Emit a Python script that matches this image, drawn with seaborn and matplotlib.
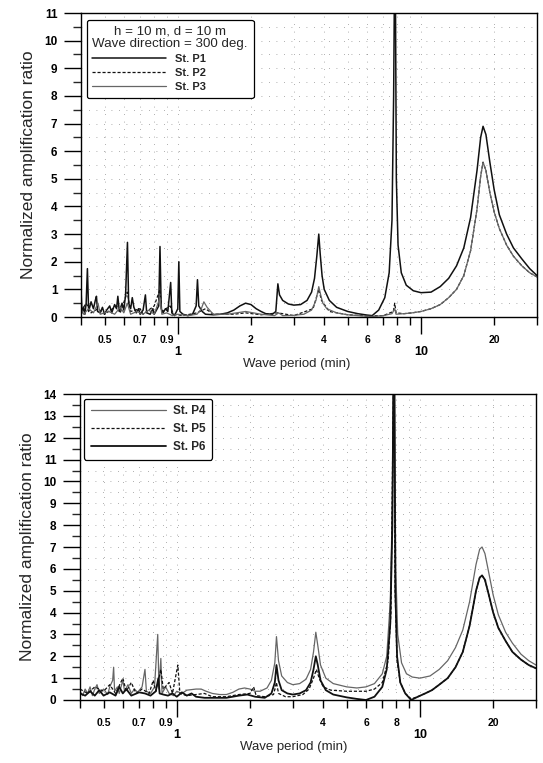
import numpy as np
import pandas as pd
import matplotlib
matplotlib.use("Agg")
import matplotlib.pyplot as plt
from matplotlib.ticker import FixedLocator, FixedFormatter, MultipleLocator
import seaborn as sns

# ---------------- data ----------------
# Top panel
p1_T = [0.400, 0.404, 0.41, 0.415, 0.42, 0.425, 0.43, 0.44, 0.45, 0.458, 0.463, 0.468, 0.48, 0.49, 0.50,
        0.51, 0.525, 0.535, 0.55, 0.56, 0.567, 0.575, 0.59, 0.60, 0.61, 0.621, 0.628, 0.64, 0.65, 0.66,
        0.675, 0.69, 0.70, 0.72, 0.736, 0.745, 0.77, 0.79, 0.80, 0.835, 0.845, 0.855, 0.87, 0.89, 0.91,
        0.935, 0.945, 0.97, 1.0, 1.01, 1.02, 1.05, 1.1, 1.15, 1.19, 1.205, 1.22, 1.26, 1.3, 1.4, 1.5,
        1.6, 1.7, 1.8, 1.9, 2.0, 2.1, 2.2, 2.3, 2.45, 2.53, 2.58, 2.62, 2.7, 2.85, 3.0, 3.2, 3.4, 3.55,
        3.65, 3.73, 3.8, 3.85, 3.92, 4.0, 4.2, 4.5, 5.0, 5.5, 6.0, 6.3, 6.7, 7.1, 7.4, 7.6, 7.72, 7.78,
        7.85, 7.92, 8.05, 8.3, 8.7, 9.3, 10, 11, 12, 13, 14, 15, 16, 17, 17.6, 18.0, 18.5, 19.2, 20, 21,
        22.5, 24, 26, 28, 30]
p1_A = [1.0, 0.15, 0.35, 0.1, 0.5, 1.75, 0.2, 0.55, 0.3, 0.6, 0.75, 0.2, 0.15, 0.35, 0.1,
        0.25, 0.4, 0.15, 0.45, 0.3, 0.75, 0.2, 0.5, 0.25, 0.8, 2.7, 0.5, 0.3, 0.7, 0.35,
        0.15, 0.3, 0.1, 0.25, 0.8, 0.15, 0.1, 0.3, 0.1, 0.4, 2.55, 0.3, 0.15, 0.3, 0.2,
        1.25, 0.15, 0.05, 0.3, 2.0, 0.2, 0.1, 0.05, 0.1, 0.4, 1.35, 0.4, 0.2, 0.1, 0.08, 0.1,
        0.15, 0.25, 0.4, 0.5, 0.45, 0.3, 0.2, 0.12, 0.1, 0.2, 1.2, 0.8, 0.6, 0.47, 0.43, 0.45, 0.6, 0.9,
        1.4, 2.2, 3.0, 2.3, 1.5, 1.0, 0.6, 0.35, 0.2, 0.12, 0.07, 0.05, 0.25, 0.7, 1.6, 3.5, 8.0, 12.0,
        12.0, 5.0, 2.6, 1.6, 1.15, 0.95, 0.88, 0.9, 1.1, 1.4, 1.85, 2.5, 3.6, 5.3, 6.5, 6.9, 6.6, 5.6, 4.6, 3.7,
        3.0, 2.5, 2.1, 1.75, 1.5]

p2_T = [0.40, 0.42, 0.44, 0.47, 0.50, 0.56, 0.58, 0.62, 0.64, 0.70, 0.72, 0.80, 0.845, 0.86, 0.93,
        0.96, 1.05, 1.2, 1.3, 1.4, 1.7, 1.9, 2.2, 2.58, 3.0, 3.6, 3.8, 3.9, 4.2, 5.0, 6.0, 7.0, 7.7,
        7.8, 7.9, 8.5, 9.2, 10, 11, 12, 13, 14, 15, 16, 17, 17.6, 18, 18.5, 19.2, 20, 21, 22.5, 24, 26,
        28, 30]
p2_A = [0.2, 0.5, 0.15, 0.3, 0.1, 0.4, 0.15, 0.9, 0.2, 0.3, 0.1, 0.4, 1.0, 0.2, 0.4,
        0.1, 0.05, 0.15, 0.3, 0.1, 0.1, 0.15, 0.08, 0.15, 0.05, 0.3, 1.0, 0.6, 0.2, 0.08, 0.04, 0.05, 0.2,
        0.5, 0.15, 0.12, 0.15, 0.2, 0.3, 0.45, 0.7, 1.0, 1.5, 2.4, 3.9, 5.1, 5.6, 5.3, 4.5, 3.8, 3.2, 2.6, 2.2, 1.85,
        1.6, 1.45]

p3_T = [0.40, 0.41, 0.43, 0.45, 0.47, 0.48, 0.52, 0.55, 0.58, 0.60, 0.62, 0.64, 0.68, 0.72, 0.76,
        0.80, 0.845, 0.86, 0.90, 0.95, 1.0, 1.1, 1.2, 1.25, 1.28, 1.32, 1.4, 1.6, 1.9, 2.2, 2.5, 2.6,
        2.7, 3.0, 3.3, 3.55, 3.7, 3.8, 3.87, 3.95, 4.1, 4.5, 5.0, 5.5, 6.3, 7.0, 7.6, 7.8, 7.9, 8.5,
        9.2, 10, 11, 12, 13, 14, 15, 16, 17, 17.6, 18, 18.5, 19.2, 20, 21, 22.5, 24, 26, 28, 30]
p3_A = [0.3, 0.1, 0.3, 0.15, 0.5, 0.1, 0.2, 0.1, 0.35, 0.15, 0.5, 0.1, 0.2, 0.1, 0.25,
        0.1, 0.7, 0.1, 0.15, 0.05, 0.1, 0.05, 0.1, 0.3, 0.55, 0.35, 0.1, 0.1, 0.2, 0.1, 0.05, 0.15,
        0.05, 0.06, 0.1, 0.25, 0.6, 1.1, 0.8, 0.5, 0.3, 0.15, 0.08, 0.05, 0.02, 0.05, 0.12, 0.3, 0.1, 0.12,
        0.15, 0.2, 0.3, 0.45, 0.7, 1.0, 1.5, 2.4, 3.9, 5.1, 5.6, 5.3, 4.5, 3.8, 3.2, 2.6, 2.2, 1.85, 1.6, 1.45]

# Bottom panel
p4_T = [0.40, 0.41, 0.42, 0.43, 0.44, 0.45, 0.46, 0.47, 0.48, 0.50, 0.52, 0.53, 0.545, 0.55, 0.555,
        0.57, 0.58, 0.60, 0.61, 0.63, 0.65, 0.67, 0.69, 0.72, 0.74, 0.75, 0.78, 0.81, 0.835, 0.845,
        0.86, 0.87, 0.90, 0.93, 0.97, 1.0, 1.05, 1.1, 1.2, 1.26, 1.32, 1.4, 1.5, 1.6, 1.7, 1.8, 1.9,
        2.0, 2.1, 2.2, 2.35, 2.45, 2.53, 2.57, 2.62, 2.7, 2.85, 3.0, 3.2, 3.4, 3.55, 3.65, 3.73, 3.8,
        3.9, 4.1, 4.4, 5.0, 5.5, 6.0, 6.5, 7.0, 7.3, 7.55, 7.7, 7.78, 7.85, 7.95, 8.1, 8.4, 8.8, 9.3,
        10, 11, 12, 13, 14, 15, 16, 17, 17.6, 18, 18.5, 19.2, 20, 21, 22.5, 24, 26, 28, 30]
p4_A = [0.4, 0.2, 0.5, 0.3, 0.6, 0.2, 0.5, 0.7, 0.3, 0.5, 0.25, 0.6, 0.9, 1.5, 0.4,
        0.6, 0.3, 0.9, 0.4, 0.7, 0.3, 0.5, 0.35, 0.6, 1.4, 0.4, 0.3, 0.6, 3.0, 0.5,
        1.9, 0.3, 0.6, 0.3, 0.2, 0.4, 0.3, 0.45, 0.5, 0.5, 0.4, 0.3, 0.25, 0.25, 0.35, 0.5, 0.55,
        0.5, 0.4, 0.4, 0.55, 0.9, 1.7, 2.9, 1.8, 1.1, 0.8, 0.7, 0.75, 0.95, 1.4, 2.2, 3.1, 2.5,
        1.6, 1.0, 0.75, 0.6, 0.55, 0.6, 0.75, 1.2, 2.0, 4.5, 9.0, 15.0, 15.0, 6.0, 3.0, 1.7, 1.2, 1.05,
        1.0, 1.1, 1.4, 1.8, 2.4, 3.2, 4.5, 6.2, 6.9, 7.0, 6.7, 5.8, 4.8, 3.9, 3.1, 2.6, 2.1, 1.8, 1.6]

p5_T = [0.40, 0.43, 0.46, 0.50, 0.53, 0.56, 0.60, 0.62, 0.65, 0.68, 0.72, 0.77, 0.80, 0.82, 0.86,
        0.88, 0.93, 0.96, 1.01, 1.03, 1.1, 1.2, 1.3, 1.4, 1.6, 1.8, 2.0, 2.07, 2.12, 2.3, 2.5, 2.57,
        2.62, 2.8, 3.0, 3.3, 3.5, 3.65, 3.75, 3.85, 4.0, 4.3, 5.0, 6.0, 6.5, 7.0, 7.4, 7.6, 7.75, 7.8,
        7.9, 8.05, 8.3, 8.7, 9.2, 9.8, 10.5, 11.2, 12, 13, 14, 15, 16, 16.5, 17, 17.6, 18, 18.5, 19.2,
        20, 21, 22.5, 24, 26, 28, 30]
p5_A = [0.5, 0.3, 0.6, 0.4, 0.7, 0.3, 1.0, 0.4, 0.8, 0.3, 0.5, 0.3, 0.9, 0.4, 1.4,
        0.5, 0.8, 0.3, 1.6, 0.3, 0.2, 0.25, 0.3, 0.15, 0.15, 0.25, 0.3, 0.6, 0.2, 0.15, 0.25, 0.8,
        0.3, 0.15, 0.15, 0.25, 0.5, 1.0, 1.4, 1.0, 0.6, 0.45, 0.4, 0.4, 0.5, 0.8, 1.8, 4.0, 13.0, 15.0,
        5.0, 1.8, 0.8, 0.3, 0.05, 0.15, 0.3, 0.45, 0.7, 1.0, 1.5, 2.2, 3.4, 4.2, 5.0, 5.6, 5.7, 5.5, 4.8,
        4.0, 3.3, 2.7, 2.2, 1.85, 1.6, 1.45]

p6_T = [0.40, 0.42, 0.44, 0.46, 0.48, 0.50, 0.53, 0.56, 0.58, 0.60, 0.62, 0.65, 0.70, 0.74, 0.78,
        0.82, 0.84, 0.85, 0.88, 0.92, 0.96, 1.0, 1.05, 1.1, 1.15, 1.2, 1.3, 1.45, 1.6, 1.8, 1.95, 2.1,
        2.3, 2.45, 2.53, 2.57, 2.62, 2.7, 2.85, 3.0, 3.2, 3.4, 3.55, 3.65, 3.73, 3.8, 3.9, 4.1, 4.4,
        5.0, 5.5, 6.0, 6.5, 7.0, 7.3, 7.55, 7.7, 7.78, 7.85, 7.92, 8.05, 8.3, 8.7, 9.2, 9.8, 10.5,
        11.2, 12, 13, 14, 15, 16, 16.5, 17, 17.6, 18, 18.5, 19.2, 20, 21, 22.5, 24, 26, 28, 30]
p6_A = [0.3, 0.2, 0.4, 0.2, 0.45, 0.2, 0.35, 0.2, 0.6, 0.3, 0.5, 0.2, 0.35, 0.3, 0.2,
        0.4, 1.0, 0.3, 0.25, 0.2, 0.3, 0.15, 0.35, 0.2, 0.3, 0.15, 0.1, 0.1, 0.1, 0.2, 0.25, 0.15,
        0.1, 0.3, 0.8, 1.6, 0.9, 0.45, 0.3, 0.25, 0.3, 0.45, 0.8, 1.4, 2.0, 1.6, 0.9, 0.45, 0.25,
        0.12, 0.05, 0.0, 0.15, 0.6, 1.4, 3.5, 8.0, 15.0, 15.0, 5.0, 2.0, 0.8, 0.3, 0.0, 0.15, 0.3,
        0.45, 0.7, 1.0, 1.5, 2.2, 3.4, 4.2, 5.0, 5.6, 5.7, 5.5, 4.8, 4.0, 3.3, 2.7, 2.2, 1.85, 1.6, 1.45]

x_major = [1, 10]
x_major_labels = ["1", "10"]
x_minor = [0.4, 0.5, 0.6, 0.7, 0.8, 0.9, 2, 3, 4, 5, 6, 7, 8, 9, 20, 30]
x_minor_labels = ["", "0.5", "", "0.7", "", "0.9", "2", "", "4", "", "6", "", "8", "", "20", ""]

top_title = "h = 10 m, d = 10 m\nWave direction = 300 deg."
xlabel = "Wave period (min)"
ylabel = "Normalized amplification ratio"

# ---------------- style ----------------
sns.set_style("ticks")
plt.rcParams['font.family'] = ['Liberation Sans', 'DejaVu Sans']
plt.rcParams['axes.linewidth'] = 1.0

fig = plt.figure(figsize=(5.43, 7.63), dpi=100)
W, H = 543, 763


def add_ax(l, t, r, b):
    return fig.add_axes([l / W, 1 - b / H, (r - l) / W, (b - t) / H])


ax1 = add_ax(81, 13, 537, 317)
ax2 = add_ax(80, 394, 536, 700)

BLACK = "#111111"
GRAY = "#666666"


def draw(ax, T, A, label, color, lw, ls):
    df = pd.DataFrame({"T": T, "A": A})
    sns.lineplot(data=df, x="T", y="A", ax=ax, color=color, lw=lw, linestyle=ls,
                 label=label, estimator=None, sort=False)


draw(ax1, p1_T, p1_A, "St. P1", BLACK, 1.1, "-")
draw(ax1, p2_T, p2_A, "St. P2", BLACK, 0.9, (0, (2.5, 1.5)))
draw(ax1, p3_T, p3_A, "St. P3", GRAY, 0.9, "-")

draw(ax2, p4_T, p4_A, "St. P4", GRAY, 0.9, "-")
draw(ax2, p5_T, p5_A, "St. P5", BLACK, 0.9, (0, (2.5, 1.5)))
draw(ax2, p6_T, p6_A, "St. P6", BLACK, 1.3, "-")


def style_axes(ax, ymax, xlab_x):
    ax.set_xscale("log")
    ax.set_xlim(0.4, 30)
    ax.set_ylim(0, ymax)
    ax.xaxis.set_major_locator(FixedLocator(x_major))
    ax.xaxis.set_major_formatter(FixedFormatter(x_major_labels))
    ax.xaxis.set_minor_locator(FixedLocator(x_minor))
    ax.xaxis.set_minor_formatter(FixedFormatter(x_minor_labels))
    ax.yaxis.set_major_locator(MultipleLocator(1))
    ax.yaxis.set_minor_locator(MultipleLocator(0.5))
    ax.tick_params(axis="x", which="major", direction="out", length=12, width=1.0,
                   pad=9, labelsize=9, colors="black")
    ax.tick_params(axis="x", which="minor", direction="out", length=6, width=1.0,
                   pad=7, labelsize=7.5, colors="black")
    ax.tick_params(axis="y", which="major", direction="out", length=12, width=1.0,
                   pad=5, labelsize=8.5, colors="black")
    ax.tick_params(axis="y", which="minor", direction="out", length=6, width=1.0)
    for lab in ax.get_xticklabels(which="both") + ax.get_yticklabels():
        lab.set_fontweight("bold")
    for s in ax.spines.values():
        s.set_visible(True)
        s.set_color("black")
    ax.grid(True, which="both", axis="both", linestyle=(0, (1, 8)), color="0.3",
            lw=0.6, alpha=0.6)
    ax.set_xlabel(xlabel, fontsize=9.5, labelpad=0)
    ax.xaxis.label.set_x(xlab_x)
    ax.set_ylabel(ylabel, fontsize=12.5, labelpad=6)


style_axes(ax1, 11, 0.472)
style_axes(ax2, 14, 0.469)

leg1 = ax1.legend(title=top_title, loc="upper left", bbox_to_anchor=(0.013, 0.977),
                  borderaxespad=0, prop={"size": 8, "weight": "bold"}, title_fontsize=9.6,
                  handlelength=6.6, labelspacing=0.38, handletextpad=0.8, fancybox=True,
                  framealpha=1, edgecolor="black", borderpad=0.5, alignment="left")
leg1.get_frame().set_linewidth(0.9)
leg1.get_title().set_multialignment("center")
leg1.get_title().set_linespacing(1.0)

leg2 = ax2.legend(loc="upper left", bbox_to_anchor=(0.009, 0.984),
                  borderaxespad=0, prop={"size": 8.5, "weight": "bold"}, handlelength=6.4,
                  labelspacing=0.5, handletextpad=0.6, fancybox=True, framealpha=1,
                  edgecolor="black", borderpad=0.55)
leg2.get_frame().set_linewidth(0.9)

fig.savefig("out.png", dpi=100)
